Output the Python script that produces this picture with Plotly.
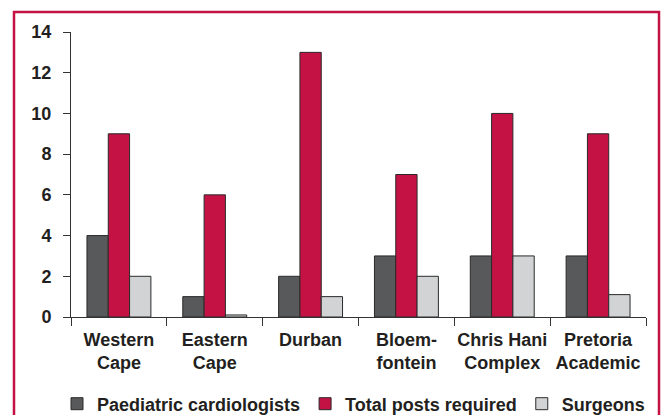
import plotly.graph_objects as go

categories = ["Western<br>Cape", "Eastern<br>Cape", "Durban", "Bloem-<br>fontein", "Chris Hani<br>Complex", "Pretoria<br>Academic"]
paediatric_cardiologists = [4, 1, 2, 3, 3, 3]
total_posts_required = [9, 6, 13, 7, 10, 9]
surgeons = [2, 0.1, 1, 2, 3, 1.1]
y_ticks = [0, 2, 4, 6, 8, 10, 12, 14]

W, H = 662, 415
ML, MR, MT, MB = 71, 16, 32, 98
pw, ph = W - ML - MR, H - MT - MB

FAM = "Liberation Sans, Arial, sans-serif"
font = dict(family=FAM, size=18, color="#231f20", weight="bold")
outline = dict(color="#2a2a2a", width=1)

fig = go.Figure()
fig.add_bar(x=categories, y=paediatric_cardiologists, name="Paediatric cardiologists",
            marker=dict(color="#58595b", line=outline))
fig.add_bar(x=categories, y=total_posts_required, name="Total posts required",
            marker=dict(color="#c41245", line=outline))
fig.add_bar(x=categories, y=surgeons, name="Surgeons",
            marker=dict(color="#d1d3d4", line=outline))

fig.update_layout(
    width=W, height=H,
    margin=dict(l=ML, r=MR, t=MT, b=MB, autoexpand=False),
    paper_bgcolor="white", plot_bgcolor="white",
    barmode="group", bargap=0.333, bargroupgap=0,
    font=font,
    showlegend=True,
    legend=dict(orientation="h", x=(57 - ML) / pw, xanchor="left",
                y=(H - MB - 404) / ph, yanchor="middle",
                font=font, itemclick=False, traceorder="normal"),
    hovermode=False,
)
fig.update_xaxes(type="category", showline=True, linecolor="#333333", linewidth=1,
                 ticks="outside", tickson="boundaries", ticklen=8, tickcolor="#333333",
                 showgrid=False, zeroline=False, automargin=False, tickfont=font,
                 tickangle=0, ticklabelstandoff=6)
fig.update_yaxes(range=[0, 14], tickvals=y_ticks, showline=True, linecolor="#333333",
                 linewidth=1, ticks="outside", ticklen=7, tickcolor="#333333",
                 showgrid=False, zeroline=False, ticklabelstandoff=8, automargin=False,
                 tickfont=font)

fig.add_shape(type="rect", xref="paper", yref="paper",
              x0=(14 - ML) / pw, x1=(659 - ML) / pw,
              y0=(H - MB - 440) / ph, y1=(H - MB - 12) / ph,
              line=dict(color="#c41245", width=2.5), fillcolor="rgba(0,0,0,0)", layer="below")

fig.write_html("out.html", config={"displayModeBar": False},
               post_script="document.body.style.margin='0px';")
